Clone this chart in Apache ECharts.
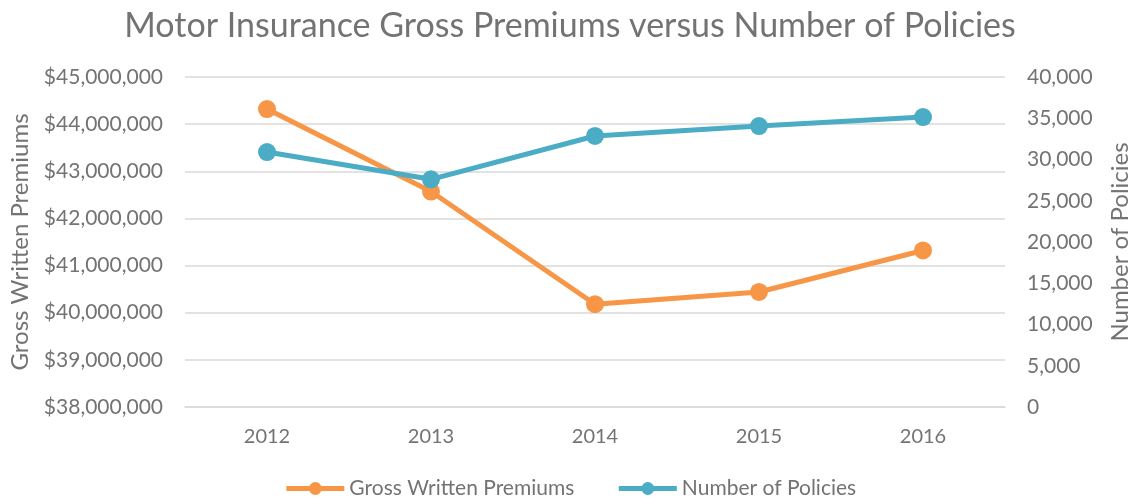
<!DOCTYPE html>
<html><head><meta charset="utf-8">
<script src="https://cdn.jsdelivr.net/npm/echarts@6/dist/echarts.min.js"></script>
<style>html,body{margin:0;padding:0;background:#fff}#c{width:1140px;height:504px}</style>
</head><body><div id="c"></div>
<script>
const years = ['2012','2013','2014','2015','2016'];
const premiums = [44320000, 42570000, 40180000, 40440000, 41320000];
const policies = [30900, 27600, 32850, 34050, 35150];
const titleText = 'Motor Insurance Gross Premiums versus Number of Policies';
const leftName = 'Gross Written Premiums';
const rightName = 'Number of Policies';

const FONT = 'Lato';
const GREY = '#737373';
const fmt = v => Math.round(v).toString().replace(/\B(?=(\d{3})+(?!\d))/g, ',');

const chart = echarts.init(document.getElementById('c'));
chart.setOption({
  animation: false,
  textStyle: {fontFamily: FONT},
  title: {text: titleText, left: 'center', top: 4,
    textStyle: {fontFamily: FONT, fontSize: 34, fontWeight: 'normal', color: GREY}},
  legend: {bottom: 0, left: 'center', itemWidth: 58, itemHeight: 16, itemGap: 42,
    lineStyle: {width: 5},
    textStyle: {fontFamily: FONT, fontSize: 21, color: GREY},
    data: [leftName, rightName]},
  grid: {left: 185, right: 129, top: 77, bottom: 97},
  xAxis: {type: 'category', data: years, boundaryGap: true,
    axisLine: {show: true, lineStyle: {color: '#d9d9d9', width: 1.5}},
    axisTick: {show: false},
    axisLabel: {fontFamily: FONT, fontSize: 20, color: GREY, margin: 20}},
  yAxis: [
    {type: 'value', min: 38000000, max: 45000000, interval: 1000000,
      name: leftName, nameLocation: 'middle', nameGap: 153, nameRotate: 90,
      nameTextStyle: {fontFamily: FONT, fontSize: 24, color: GREY},
      axisLine: {show: false}, axisTick: {show: false},
      axisLabel: {fontFamily: FONT, fontSize: 21, color: GREY, margin: 22, formatter: v => '$' + fmt(v)},
      splitLine: {show: true, lineStyle: {color: '#d9d9d9', width: 1.5}}},
    {type: 'value', min: 0, max: 40000, interval: 5000,
      name: rightName, nameLocation: 'middle', nameGap: 103, nameRotate: 90,
      nameTextStyle: {fontFamily: FONT, fontSize: 24, color: GREY},
      axisLine: {show: false}, axisTick: {show: false},
      axisLabel: {fontFamily: FONT, fontSize: 21, color: GREY, margin: 22, formatter: v => fmt(v)},
      splitLine: {show: false}}
  ],
  series: [
    {name: leftName, type: 'line', yAxisIndex: 0, data: premiums,
      symbol: 'circle', symbolSize: 18,
      lineStyle: {color: '#F79646', width: 5}, itemStyle: {color: '#F79646'}},
    {name: rightName, type: 'line', yAxisIndex: 1, data: policies,
      symbol: 'circle', symbolSize: 18,
      lineStyle: {color: '#4BACC6', width: 5}, itemStyle: {color: '#4BACC6'}}
  ]
});
</script></body></html>
